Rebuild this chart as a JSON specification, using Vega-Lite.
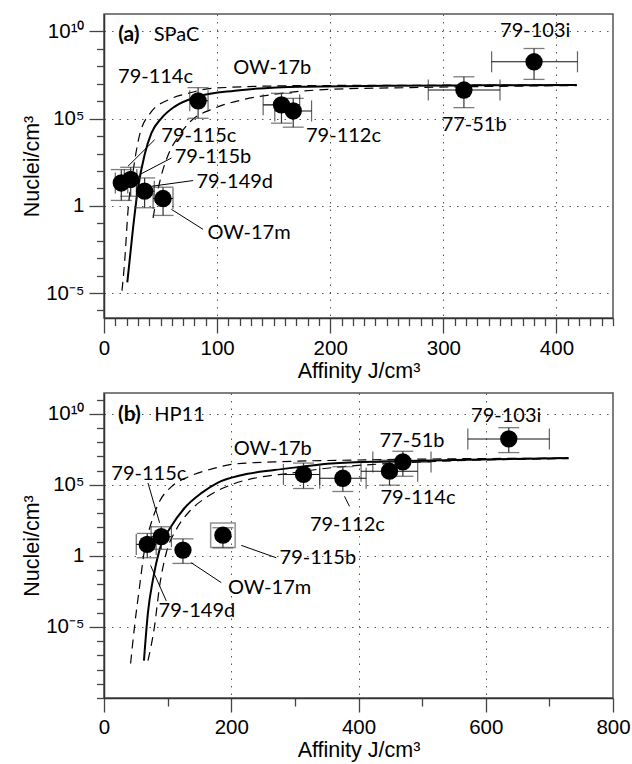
{
  "$schema": "https://vega.github.io/schema/vega-lite/v6.json",
  "padding": {"left": 20, "top": 13, "right": 5, "bottom": 2},
  "spacing": 5,
  "config": {
    "view": {"stroke": "#555", "strokeWidth": 1.5},
    "axis": {"labelFont": "Liberation Sans", "labelFontSize": 20.5, "titleFont": "Liberation Sans", "titleFontSize": 21.5, "titleFontWeight": "normal", "labelColor": "#000", "titleColor": "#000", "domainColor": "#333", "domainWidth": 1.5, "tickColor": "#444", "tickWidth": 1.3, "gridColor": "#555", "gridDash": [1.5, 6], "gridWidth": 1, "labelFlush": false, "labelOverlap": false, "labelPadding": 5, "titlePadding": 2},
    "text": {"font": "Lato", "fontSize": 20, "color": "#000"}
  },
  "datasets": {
    "curvesA": [
      {"c": "solid", "x": 20.6, "y": 4.07e-5}, {"c": "solid", "x": 25.7, "y": 0.055}, {"c": "solid", "x": 30.1, "y": 10.7}, {"c": "solid", "x": 35.9, "y": 851}, {"c": "solid", "x": 41.9, "y": 14800}, {"c": "solid", "x": 50.7, "y": 105000}, {"c": "solid", "x": 62.5, "y": 490000}, {"c": "solid", "x": 83.2, "y": 1820000}, {"c": "solid", "x": 115.6, "y": 3980000}, {"c": "solid", "x": 174.6, "y": 6760000}, {"c": "solid", "x": 250, "y": 7600000}, {"c": "solid", "x": 330, "y": 8100000}, {"c": "solid", "x": 418, "y": 8500000},
      {"c": "d1", "x": 15.9, "y": 1.35e-5}, {"c": "d1", "x": 18.3, "y": 6.9e-4}, {"c": "d1", "x": 21.2, "y": 0.5}, {"c": "d1", "x": 25.7, "y": 95}, {"c": "d1", "x": 31.5, "y": 11700}, {"c": "d1", "x": 41.9, "y": 250000}, {"c": "d1", "x": 56.6, "y": 1170000}, {"c": "d1", "x": 74.3, "y": 2800000}, {"c": "d1", "x": 95, "y": 5500000}, {"c": "d1", "x": 174.6, "y": 7800000}, {"c": "d1", "x": 250, "y": 8100000}, {"c": "d1", "x": 418, "y": 8500000},
      {"c": "d2", "x": 43.4, "y": 0.2}, {"c": "d2", "x": 48, "y": 10}, {"c": "d2", "x": 56.6, "y": 794}, {"c": "d2", "x": 65, "y": 7900}, {"c": "d2", "x": 75.8, "y": 63000}, {"c": "d2", "x": 97.9, "y": 400000}, {"c": "d2", "x": 121.5, "y": 1170000}, {"c": "d2", "x": 150.7, "y": 2500000}, {"c": "d2", "x": 200, "y": 4800000}, {"c": "d2", "x": 271, "y": 6000000}, {"c": "d2", "x": 418, "y": 7900000}
    ],
    "ptsA": [
      {"x": 15.3, "y": 20.4, "ylo": 2.04, "yhi": 120, "xlo": 10, "xhi": 21},
      {"x": 23.6, "y": 32.4, "ylo": 3.55, "yhi": 162, "xlo": 18, "xhi": 29},
      {"x": 35.9, "y": 6.92, "ylo": 0.776, "yhi": 39.8, "xlo": 28.6, "xhi": 44.5},
      {"x": 52.2, "y": 2.63, "ylo": 0.282, "yhi": 11.7, "xlo": 43.4, "xhi": 61},
      {"x": 83.2, "y": 1050000, "ylo": 105000, "yhi": 6000000, "xlo": 75.8, "xhi": 92},
      {"x": 156.9, "y": 617000, "ylo": 55000, "yhi": 2820000, "xlo": 140.7, "xhi": 173},
      {"x": 167.3, "y": 275000, "ylo": 32400, "yhi": 1450000, "xlo": 151, "xhi": 183.5},
      {"x": 318.2, "y": 4370000, "ylo": 427000, "yhi": 25100000, "xlo": 286.7, "xhi": 350.1},
      {"x": 380.2, "y": 182000000, "ylo": 17800000, "yhi": 1050000000, "xlo": 342.7, "xhi": 418.6}
    ],
    "labelsA": [
      {"t": "79-114c", "x": 12.4, "y": 25000000},
      {"t": "OW-17b", "x": 114.3, "y": 79000000},
      {"t": "79-115c", "x": 50.7, "y": 9500},
      {"t": "79-115b", "x": 62.5, "y": 603},
      {"t": "79-149d", "x": 81.7, "y": 23.4},
      {"t": "OW-17m", "x": 91.4, "y": 0.029},
      {"t": "79-112c", "x": 178.6, "y": 9500},
      {"t": "77-51b", "x": 298.5, "y": 45000},
      {"t": "79-103i", "x": 350.2, "y": 11000000000},
      {"t": "SPaC", "x": 44, "y": 6000000000}
    ],
    "boldA": [{"t": "(a)", "x": 12.5, "y": 6000000000}],
    "arrowsA": [
      {"x": 44.8, "y": 6170, "x2": 21.2, "y2": 186},
      {"x": 59.6, "y": 550, "x2": 31.5, "y2": 61.7},
      {"x": 78.8, "y": 28.2, "x2": 41.9, "y2": 13.2},
      {"x": 87.6, "y": 0.0447, "x2": 59.6, "y2": 0.63}
    ],
    "curvesB": [
      {"c": "solid", "x": 62.8, "y": 4.3e-8}, {"c": "solid", "x": 69.1, "y": 1.05e-4}, {"c": "solid", "x": 77, "y": 0.0224}, {"c": "solid", "x": 87.4, "y": 2.8}, {"c": "solid", "x": 105.7, "y": 120}, {"c": "solid", "x": 126.6, "y": 2340}, {"c": "solid", "x": 152.9, "y": 26000}, {"c": "solid", "x": 179.1, "y": 145000}, {"c": "solid", "x": 215.7, "y": 480000}, {"c": "solid", "x": 268, "y": 1100000}, {"c": "solid", "x": 310, "y": 1860000}, {"c": "solid", "x": 357, "y": 3200000}, {"c": "solid", "x": 450, "y": 4500000}, {"c": "solid", "x": 550, "y": 5600000}, {"c": "solid", "x": 730, "y": 7600000},
      {"c": "d1", "x": 41.8, "y": 2.7e-8}, {"c": "d1", "x": 48.1, "y": 1.2e-5}, {"c": "d1", "x": 56, "y": 0.0076}, {"c": "d1", "x": 63.8, "y": 2.9}, {"c": "d1", "x": 74.3, "y": 214}, {"c": "d1", "x": 87.4, "y": 6900}, {"c": "d1", "x": 105.7, "y": 72000}, {"c": "d1", "x": 132, "y": 360000}, {"c": "d1", "x": 163.4, "y": 1100000}, {"c": "d1", "x": 205.2, "y": 2900000}, {"c": "d1", "x": 268, "y": 4100000}, {"c": "d1", "x": 400, "y": 5600000}, {"c": "d1", "x": 730, "y": 7600000},
      {"c": "d2", "x": 69.1, "y": 4.3e-8}, {"c": "d2", "x": 79.5, "y": 1.2e-5}, {"c": "d2", "x": 87.4, "y": 0.0076}, {"c": "d2", "x": 97.9, "y": 1.66}, {"c": "d2", "x": 113.6, "y": 72}, {"c": "d2", "x": 134.5, "y": 1380}, {"c": "d2", "x": 163.4, "y": 15500}, {"c": "d2", "x": 200, "y": 102000}, {"c": "d2", "x": 247.1, "y": 360000}, {"c": "d2", "x": 289, "y": 630000}, {"c": "d2", "x": 357, "y": 1600000}, {"c": "d2", "x": 450, "y": 3200000}, {"c": "d2", "x": 730, "y": 7100000}
    ],
    "ptsB": [
      {"x": 68, "y": 6.46, "ylo": 0.74, "yhi": 38, "xlo": 50.7, "xhi": 82},
      {"x": 90, "y": 22.4, "ylo": 2.88, "yhi": 112, "xlo": 74, "xhi": 106},
      {"x": 124.1, "y": 2.57, "ylo": 0.295, "yhi": 15.8},
      {"x": 186.9, "y": 28.8, "ylo": 3.7, "yhi": 95.5},
      {"x": 313.6, "y": 540000, "ylo": 55000, "yhi": 3400000, "xlo": 282, "xhi": 339},
      {"x": 375.4, "y": 290000, "ylo": 34000, "yhi": 1900000, "xlo": 339, "xhi": 412},
      {"x": 448.7, "y": 910000, "ylo": 95000, "yhi": 5400000, "xlo": 404, "xhi": 493},
      {"x": 469.7, "y": 4100000, "ylo": 400000, "yhi": 23000000, "xlo": 422.5, "xhi": 514},
      {"x": 636.2, "y": 170000000, "ylo": 18600000, "yhi": 1050000000, "xlo": 571.8, "xhi": 700}
    ],
    "boxB": [{"x": 186.9, "y": 28.8}],
    "labelsB": [
      {"t": "HP11", "x": 79, "y": 8300000000},
      {"t": "79-103i", "x": 577, "y": 7100000000},
      {"t": "77-51b", "x": 433, "y": 129000000},
      {"t": "OW-17b", "x": 204, "y": 32000000},
      {"t": "79-115c", "x": 11.5, "y": 575000},
      {"t": "79-114c", "x": 434.6, "y": 12000},
      {"t": "79-112c", "x": 323.6, "y": 138},
      {"t": "79-115b", "x": 275.9, "y": 0.74},
      {"t": "OW-17m", "x": 194.8, "y": 0.0059},
      {"t": "79-149d", "x": 85.8, "y": 0.000135}
    ],
    "boldB": [{"t": "(b)", "x": 22, "y": 8300000000}],
    "arrowsB": [
      {"x": 69.1, "y": 135000, "x2": 87.4, "y2": 214},
      {"x": 97.9, "y": 0.00068, "x2": 73.2, "y2": 0.214},
      {"x": 184.3, "y": 0.0132, "x2": 137.1, "y2": 0.33},
      {"x": 270.7, "y": 0.74, "x2": 215.7, "y2": 5.5},
      {"x": 385.8, "y": 3090, "x2": 378, "y2": 15500}
    ]
  },
  "vconcat": [
    {
      "width": 509,
      "height": 304,
      "encoding": {
        "x": {"field": "x", "type": "quantitative", "scale": {"domain": [0, 450], "nice": false, "zero": false},
          "axis": {"title": "Affinity J/cm³", "labelOverlap": false, "values": [0,10,20,30,40,50,60,70,80,90,100,110,120,130,140,150,160,170,180,190,200,210,220,230,240,250,260,270,280,290,300,310,320,330,340,350,360,370,380,390,400,410,420,430,440,450],
            "labelExpr": "indexof([0,100,200,300,400], datum.value) >= 0 ? datum.label : ''",
            "tickSize": {"condition": {"test": "datum.value % 100 == 0", "value": 15}, "value": 7.5},
            "grid": true,
            "gridOpacity": {"condition": {"test": "datum.value % 100 == 0 && datum.value > 0 && datum.value < 450", "value": 1}, "value": 0}}},
        "y": {"field": "y", "type": "quantitative", "scale": {"type": "log", "domain": [3.7e-7, 1e11], "nice": false},
          "axis": {"title": "Nuclei/cm³", "labelOverlap": false, "values": [1e-6,1e-5,1e-4,1e-3,0.01,0.1,1,10,100,1000,10000,100000,1000000,10000000,100000000,1000000000,10000000000],
            "labelExpr": "datum.value == 10000000000 ? '10¹⁰' : datum.value == 100000 ? '10⁵' : datum.value == 1 ? '1' : datum.value == 0.00001 ? '10⁻⁵' : ''",
            "tickSize": {"condition": {"test": "datum.value == 10000000000 || datum.value == 100000 || datum.value == 1 || datum.value == 0.00001", "value": 15}, "value": 7.5},
            "grid": true,
            "gridOpacity": {"condition": {"test": "datum.value == 10000000000 || datum.value == 100000 || datum.value == 1 || datum.value == 0.00001", "value": 1}, "value": 0}}}
      },
      "layer": [
        {
          "data": {"name": "curvesA"},
          "transform": [{"filter": "datum.c == 'solid'"}],
          "mark": {"type": "line", "color": "#000", "strokeWidth": 2, "interpolate": "monotone"}
        },
        {
          "data": {"name": "curvesA"},
          "transform": [{"filter": "datum.c != 'solid'"}],
          "mark": {"type": "line", "color": "#000", "strokeWidth": 1.2, "strokeDash": [9, 6], "interpolate": "monotone"},
          "encoding": {"detail": {"field": "c"}}
        },
        {
          "data": {"name": "ptsA"},
          "mark": {"type": "errorbar", "ticks": {"size": 21, "color": "#444", "thickness": 1.3}, "rule": {"color": "#333", "strokeWidth": 1.2}},
          "encoding": {
            "y": {"field": "ylo", "type": "quantitative", "scale": {"type": "log", "domain": [3.7e-7, 1e11], "nice": false},
              "axis": {"title": "Nuclei/cm³", "labelOverlap": false, "values": [1e-6,1e-5,1e-4,1e-3,0.01,0.1,1,10,100,1000,10000,100000,1000000,10000000,100000000,1000000000,10000000000],
                "labelExpr": "datum.value == 10000000000 ? '10¹⁰' : datum.value == 100000 ? '10⁵' : datum.value == 1 ? '1' : datum.value == 0.00001 ? '10⁻⁵' : ''",
                "tickSize": {"condition": {"test": "datum.value == 10000000000 || datum.value == 100000 || datum.value == 1 || datum.value == 0.00001", "value": 15}, "value": 7.5},
                "grid": true,
                "gridOpacity": {"condition": {"test": "datum.value == 10000000000 || datum.value == 100000 || datum.value == 1 || datum.value == 0.00001", "value": 1}, "value": 0}}},
            "y2": {"field": "yhi"}
          }
        },
        {
          "data": {"name": "ptsA"},
          "transform": [{"filter": "isValid(datum.xlo)"}],
          "mark": {"type": "errorbar", "ticks": {"size": 21, "color": "#222", "thickness": 1.2}, "rule": {"color": "#111", "strokeWidth": 1.1}},
          "encoding": {
            "x": {"field": "xlo", "type": "quantitative", "scale": {"domain": [0, 450], "nice": false, "zero": false},
              "axis": {"title": "Affinity J/cm³", "labelOverlap": false, "values": [0,10,20,30,40,50,60,70,80,90,100,110,120,130,140,150,160,170,180,190,200,210,220,230,240,250,260,270,280,290,300,310,320,330,340,350,360,370,380,390,400,410,420,430,440,450],
                "labelExpr": "indexof([0,100,200,300,400], datum.value) >= 0 ? datum.label : ''",
                "tickSize": {"condition": {"test": "datum.value % 100 == 0", "value": 15}, "value": 7.5},
                "grid": true,
                "gridOpacity": {"condition": {"test": "datum.value % 100 == 0 && datum.value > 0 && datum.value < 450", "value": 1}, "value": 0}}},
            "x2": {"field": "xhi"}
          }
        },
        {
          "data": {"name": "ptsA"},
          "mark": {"type": "circle", "size": 300, "color": "#000", "opacity": 1}
        },
        {
          "data": {"name": "arrowsA"},
          "mark": {"type": "rule", "color": "#000", "strokeWidth": 1},
          "encoding": {"x2": {"field": "x2"}, "y2": {"field": "y2"}}
        },
        {
          "data": {"name": "labelsA"},
          "mark": {"type": "text", "align": "left", "baseline": "middle", "font": "Lato", "fontSize": 20},
          "encoding": {"text": {"field": "t"}}
        },
        {
          "data": {"name": "boldA"},
          "mark": {"type": "text", "align": "left", "baseline": "middle", "font": "Lato", "fontSize": 21, "fontWeight": "bold"},
          "encoding": {"text": {"field": "t"}}
        }
      ]
    },
    {
      "width": 509,
      "height": 305,
      "encoding": {
        "x": {"field": "x", "type": "quantitative", "scale": {"domain": [0, 800], "nice": false, "zero": false},
          "axis": {"title": "Affinity J/cm³", "labelOverlap": false, "values": [0,100,200,300,400,500,600,700,800],
            "labelExpr": "indexof([0,200,400,600,800], datum.value) >= 0 ? datum.label : ''",
            "tickSize": {"condition": {"test": "datum.value % 200 == 0", "value": 14}, "value": 8},
            "grid": true,
            "gridOpacity": {"condition": {"test": "datum.value % 200 == 0 && datum.value > 0 && datum.value < 800", "value": 1}, "value": 0}}},
        "y": {"field": "y", "type": "quantitative", "scale": {"type": "log", "domain": [1e-10, 2.9e11], "nice": false},
          "axis": {"title": "Nuclei/cm³", "labelOverlap": false, "values": [1e-10,1e-9,1e-8,1e-7,1e-6,1e-5,1e-4,1e-3,0.01,0.1,1,10,100,1000,10000,100000,1000000,10000000,100000000,1000000000,10000000000,100000000000],
            "labelExpr": "datum.value == 10000000000 ? '10¹⁰' : datum.value == 100000 ? '10⁵' : datum.value == 1 ? '1' : datum.value == 0.00001 ? '10⁻⁵' : ''",
            "tickSize": {"condition": {"test": "datum.value == 10000000000 || datum.value == 100000 || datum.value == 1 || datum.value == 0.00001", "value": 15}, "value": 7.5},
            "grid": true,
            "gridOpacity": {"condition": {"test": "datum.value == 10000000000 || datum.value == 100000 || datum.value == 1 || datum.value == 0.00001", "value": 1}, "value": 0}}}
      },
      "layer": [
        {
          "data": {"name": "curvesB"},
          "transform": [{"filter": "datum.c == 'solid'"}],
          "mark": {"type": "line", "color": "#000", "strokeWidth": 2, "interpolate": "monotone"}
        },
        {
          "data": {"name": "curvesB"},
          "transform": [{"filter": "datum.c != 'solid'"}],
          "mark": {"type": "line", "color": "#000", "strokeWidth": 1.2, "strokeDash": [9, 6], "interpolate": "monotone"},
          "encoding": {"detail": {"field": "c"}}
        },
        {
          "data": {"name": "boxB"},
          "mark": {"type": "point", "shape": "square", "size": 600, "filled": false, "stroke": "#666", "strokeWidth": 1.5}
        },
        {
          "data": {"name": "ptsB"},
          "mark": {"type": "errorbar", "ticks": {"size": 21, "color": "#444", "thickness": 1.3}, "rule": {"color": "#333", "strokeWidth": 1.2}},
          "encoding": {
            "y": {"field": "ylo", "type": "quantitative", "scale": {"type": "log", "domain": [1e-10, 2.9e11], "nice": false},
              "axis": {"title": "Nuclei/cm³", "labelOverlap": false, "values": [1e-10,1e-9,1e-8,1e-7,1e-6,1e-5,1e-4,1e-3,0.01,0.1,1,10,100,1000,10000,100000,1000000,10000000,100000000,1000000000,10000000000,100000000000],
                "labelExpr": "datum.value == 10000000000 ? '10¹⁰' : datum.value == 100000 ? '10⁵' : datum.value == 1 ? '1' : datum.value == 0.00001 ? '10⁻⁵' : ''",
                "tickSize": {"condition": {"test": "datum.value == 10000000000 || datum.value == 100000 || datum.value == 1 || datum.value == 0.00001", "value": 15}, "value": 7.5},
                "grid": true,
                "gridOpacity": {"condition": {"test": "datum.value == 10000000000 || datum.value == 100000 || datum.value == 1 || datum.value == 0.00001", "value": 1}, "value": 0}}},
            "y2": {"field": "yhi"}
          }
        },
        {
          "data": {"name": "ptsB"},
          "transform": [{"filter": "isValid(datum.xlo)"}],
          "mark": {"type": "errorbar", "ticks": {"size": 21, "color": "#222", "thickness": 1.2}, "rule": {"color": "#111", "strokeWidth": 1.1}},
          "encoding": {
            "x": {"field": "xlo", "type": "quantitative", "scale": {"domain": [0, 800], "nice": false, "zero": false},
              "axis": {"title": "Affinity J/cm³", "labelOverlap": false, "values": [0,100,200,300,400,500,600,700,800],
                "labelExpr": "indexof([0,200,400,600,800], datum.value) >= 0 ? datum.label : ''",
                "tickSize": {"condition": {"test": "datum.value % 200 == 0", "value": 14}, "value": 8},
                "grid": true,
                "gridOpacity": {"condition": {"test": "datum.value % 200 == 0 && datum.value > 0 && datum.value < 800", "value": 1}, "value": 0}}},
            "x2": {"field": "xhi"}
          }
        },
        {
          "data": {"name": "ptsB"},
          "mark": {"type": "circle", "size": 300, "color": "#000", "opacity": 1}
        },
        {
          "data": {"name": "arrowsB"},
          "mark": {"type": "rule", "color": "#000", "strokeWidth": 1},
          "encoding": {"x2": {"field": "x2"}, "y2": {"field": "y2"}}
        },
        {
          "data": {"name": "labelsB"},
          "mark": {"type": "text", "align": "left", "baseline": "middle", "font": "Lato", "fontSize": 20},
          "encoding": {"text": {"field": "t"}}
        },
        {
          "data": {"name": "boldB"},
          "mark": {"type": "text", "align": "left", "baseline": "middle", "font": "Lato", "fontSize": 21, "fontWeight": "bold"},
          "encoding": {"text": {"field": "t"}}
        }
      ]
    }
  ]
}
